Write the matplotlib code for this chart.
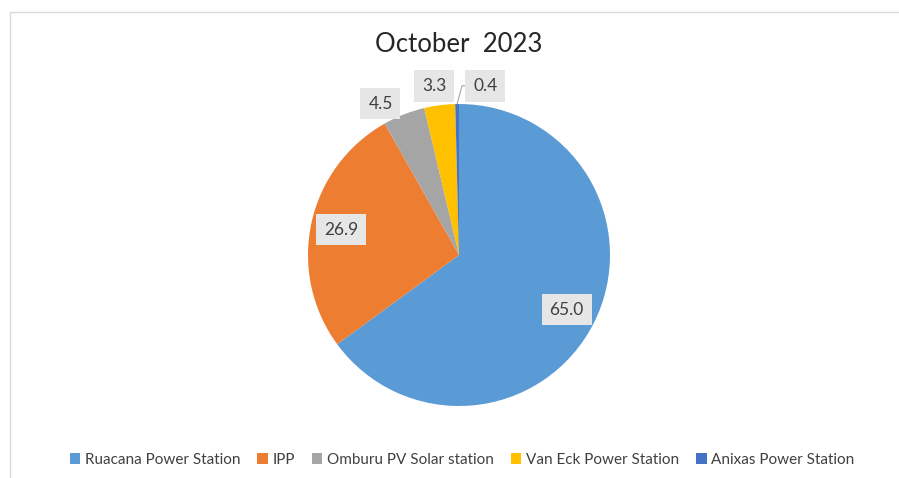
import numpy as np
import matplotlib
matplotlib.use("Agg")
import matplotlib.pyplot as plt
from matplotlib.patches import Rectangle

plt.rcParams['font.family'] = ['Lato', 'DejaVu Sans']

# data
labels = ["Ruacana Power Station", "IPP", "Omburu PV Solar station",
          "Van Eck Power Station", "Anixas Power Station"]
values = [65.0, 26.9, 4.5, 3.3, 0.4]
colors = ["#5B9BD5", "#ED7D31", "#A5A5A5", "#FFC000", "#4472C4"]
title = "October  2023"

fig = plt.figure(figsize=(8.99, 4.78), dpi=100)
# chart border
fig.patches.append(Rectangle((10 / 899, -0.01), 1.0, 1 - 12 / 478 + 0.01,
                             transform=fig.transFigure, fill=False,
                             edgecolor="#D9D9D9", linewidth=1))

ax = fig.add_axes([308 / 899, 72 / 478, 302 / 899, 302 / 478])
wedges, _ = ax.pie(values, colors=colors, startangle=90, counterclock=False,
                   wedgeprops=dict(linewidth=0))
ax.set_xlim(-1, 1)
ax.set_ylim(-1, 1)
ax.set_aspect("equal")

# data labels
box = dict(boxstyle="square,pad=0.45", facecolor="#E7E6E6", edgecolor="none")
total = sum(values)
start = 90.0
inside = [True, True, False, False, False]
shift = [0, 0, 6, 1, -8]
for i, v in enumerate(values):
    sweep = v / total * 360
    mid = start - sweep / 2
    start -= sweep
    a = np.deg2rad(mid + shift[i])
    r = 0.8 if inside[i] else 1.13
    x, y = r * np.cos(a), r * np.sin(a)
    txt = f"{v:.1f}"
    if i == 4:
        am = np.deg2rad(mid)
        ax.annotate(txt, xy=(np.cos(am), np.sin(am)), xytext=(x + 0.03, y),
                    ha="center", va="center", fontsize=12.5, color="#404040",
                    bbox=box,
                    arrowprops=dict(arrowstyle="-", color="#A6A6A6", lw=0.8,
                                    shrinkA=0, shrinkB=0,
                                    connectionstyle="angle,angleA=0,angleB=75,rad=0"))
    else:
        ax.text(x, y, txt, ha="center", va="center", fontsize=12.5,
                color="#404040", bbox=box)

fig.text(459 / 899, 1 - 44 / 478, title, ha="center", va="center",
         fontsize=18.5, color="#262626")

fig.legend(wedges, labels, loc="center", bbox_to_anchor=(462 / 899, 1 - 460 / 478),
           ncol=5, frameon=False, fontsize=11, handlelength=0.7, handleheight=0.7,
           handletextpad=0.3, columnspacing=1.1, labelcolor="#404040")

fig.savefig("out.png", dpi=100)
